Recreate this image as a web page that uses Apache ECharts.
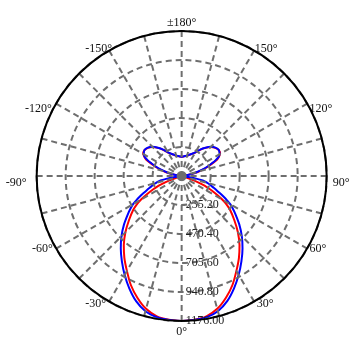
<!DOCTYPE html>
<html><head><meta charset="utf-8">
<script src="https://cdn.jsdelivr.net/npm/echarts@6/dist/echarts.min.js"></script>
<style>html,body{margin:0;padding:0;background:#fff}#c{width:350px;height:350px}</style>
</head><body><div id="c"></div>
<script>
// gamma angles (deg) for one half-plane, 0 = nadir (bottom), 180 = top
const gammaDeg = [0,5,10,15,20,25,30,35,40,45,50,55,58,60,62,64,66,68,70,72,74,76,78,80,82,84,90,98,100,102,104,107,110,115,120,125,130,135,140,145,150,155,160,165,170,175,180];
// blue curve, right half (positive angles) and left half (negative angles)
const blueRight = [1176,1172,1163,1135,1080,1005,925,845,768,690,610,530,485,455,415,375,338,305,275,250,228,205,175,120,55,0,0,0,30,80,120,170,220,305,355,368,358,335,300,262,222,200,185,172,165,160,157];
const blueLeft  = [1176,1172,1163,1135,1080,1005,925,845,768,690,610,530,485,455,415,375,338,305,275,250,228,205,175,120,55,0,0,0,30,80,120,170,220,305,355,368,358,335,300,262,222,200,185,172,165,160,157];
// red curve
const redRight = [1176,1170,1155,1115,1050,975,888,810,730,645,558,480,425,380,330,280,230,175,110,40,0,0,0,0,0,0,0,0,40,95,135,185,232,318,360,368,356,333,298,260,220,198,183,171,164,159,156];
const redLeft  = [1176,1170,1155,1115,1050,975,888,810,730,645,558,480,425,380,330,280,230,175,110,40,0,0,0,0,0,0,0,0,40,95,135,185,232,318,360,368,356,333,298,260,220,198,183,171,164,159,156];
// axis settings
const radiusMax = 1176;
const radiusStep = 235.2;
const angleLabelStep = 30;

function build(right, left) {
  const d = [];
  for (let i = 0; i < gammaDeg.length; i++) d.push([right[i], gammaDeg[i]]);
  for (let i = gammaDeg.length - 1; i >= 0; i--) d.push([left[i], 360 - gammaDeg[i]]);
  return d;
}

const serif = 'Liberation Serif, Times New Roman, serif';
// label nudges (padding, px) to sit the angle labels like the reference
const labelPad = {
  0: [29,0,0,0], 30: [17,0,0,14.5], 60: [6.5,0,0,23], 90: [14,0,0,30],
  120: [0,0,0.5,23], 150: [0,0,16,12.5], 180: [0,0,26,0],
  210: [0,9,16,0], 240: [0,25,0.5,0], 270: [14,34,0,0], 300: [6.5,24,0,0], 330: [17,15,0,0]
};
const rich = {};
Object.keys(labelPad).forEach(function (k) {
  rich['a' + k] = { fontFamily: serif, fontSize: 12, color: '#111', padding: labelPad[k] };
});

const chart = echarts.init(document.getElementById('c'));
chart.setOption({
  animation: false,
  backgroundColor: '#fff',
  polar: { center: ['51.9%', '50.3%'], radius: 145 },
  angleAxis: {
    type: 'value', min: 0, max: 360, interval: 15,
    startAngle: 270, clockwise: false,
    axisLine: { show: true, lineStyle: { color: '#000', width: 2 } },
    axisTick: { show: false },
    splitLine: { show: true, lineStyle: { color: '#6e6e6e', width: 2, type: [6, 4] } },
    axisLabel: {
      margin: -24, color: '#111', fontFamily: serif, fontSize: 12, rich: rich,
      formatter: function (v) {
        v = Math.round(v);
        if (v % angleLabelStep !== 0 || v === 360) return '';
        const t = v === 180 ? '±180°' : (v > 180 ? v - 360 : v) + '°';
        return '{a' + v + '|' + t + '}';
      }
    },
    z: 12
  },
  radiusAxis: {
    type: 'value', min: 0, max: radiusMax, interval: radiusStep,
    axisLine: { show: false },
    axisTick: { show: false },
    splitLine: { show: true, lineStyle: { color: '#6e6e6e', width: 2, type: [6, 4] } },
    axisLabel: {
      margin: 4, color: '#222', fontFamily: serif, fontSize: 12,
      formatter: function (v) { return v === 0 ? '' : v.toFixed(2); }
    },
    z: 10
  },
  series: [
    { type: 'line', coordinateSystem: 'polar', data: build(redRight, redLeft), showSymbol: false, smooth: 0.2,
      lineStyle: { color: '#ff0000', width: 2 }, z: 3 },
    { type: 'line', coordinateSystem: 'polar', data: build(blueRight, blueLeft), showSymbol: false, smooth: 0.2,
      lineStyle: { color: '#0000ff', width: 2 }, z: 4 }
  ]
});
</script>
</body></html>
